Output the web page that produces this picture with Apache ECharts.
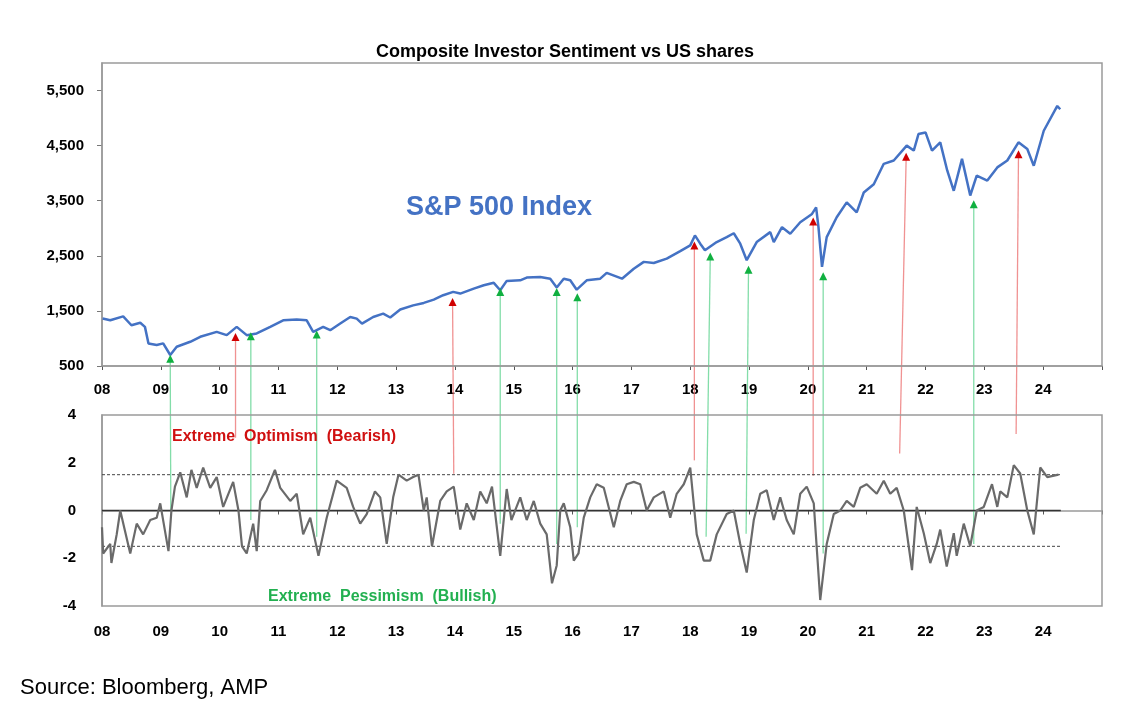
<!DOCTYPE html>
<html>
<head>
<meta charset="utf-8">
<script src="https://cdn.jsdelivr.net/npm/echarts@6/dist/echarts.min.js"></script>
<style>
html,body{margin:0;padding:0;background:#fff;}
#main{width:1132px;height:723px;}
</style>
</head>
<body>
<div id="main"></div>
<script>
// S&P 500 (year offset from 2000, index level)
var spYears = [8.01,8.14,8.36,8.50,8.65,8.73,8.79,8.93,9.04,9.16,9.27,9.50,9.67,9.95,10.12,10.29,10.46,10.63,10.86,11.08,11.31,11.48,11.59,11.76,11.88,12.05,12.22,12.33,12.42,12.61,12.78,12.90,13.07,13.29,13.47,13.64,13.80,13.97,14.09,14.32,14.49,14.66,14.77,14.88,15.11,15.22,15.45,15.62,15.73,15.85,15.96,16.07,16.24,16.47,16.58,16.84,17.04,17.21,17.38,17.60,17.83,18.00,18.08,18.17,18.25,18.45,18.62,18.74,18.85,18.96,19.13,19.36,19.42,19.56,19.70,19.87,20.07,20.14,20.18,20.24,20.32,20.49,20.66,20.83,20.95,21.12,21.29,21.46,21.68,21.80,21.88,22.00,22.11,22.25,22.37,22.48,22.62,22.76,22.87,23.05,23.22,23.39,23.58,23.73,23.84,24.01,24.24,24.29];
var spValues = [1362,1330,1400,1240,1285,1210,910,880,910,700,850,940,1030,1120,1060,1210,1060,1090,1210,1330,1345,1330,1120,1210,1150,1270,1390,1360,1270,1390,1450,1380,1525,1600,1645,1705,1785,1845,1815,1905,1965,2010,1875,2045,2055,2105,2115,2085,1925,2085,2055,1885,2055,2085,2190,2085,2265,2390,2370,2450,2585,2690,2870,2720,2600,2750,2840,2910,2720,2420,2750,2930,2750,3020,2900,3110,3260,3380,3020,2300,2840,3200,3470,3290,3650,3800,4170,4230,4500,4410,4710,4740,4410,4560,4045,3680,4260,3595,3955,3865,4105,4230,4560,4440,4135,4770,5220,5160];

// composite sentiment
var sentYears = [8.0,8.02,8.14,8.16,8.25,8.31,8.48,8.59,8.70,8.82,8.93,8.99,9.13,9.18,9.24,9.33,9.44,9.52,9.61,9.72,9.84,9.95,10.06,10.23,10.32,10.38,10.46,10.57,10.63,10.69,10.80,10.94,11.03,11.20,11.31,11.42,11.54,11.68,11.82,11.99,12.16,12.27,12.39,12.50,12.64,12.73,12.84,12.95,13.04,13.18,13.29,13.38,13.47,13.52,13.61,13.75,13.86,13.98,14.09,14.20,14.32,14.43,14.54,14.63,14.77,14.88,14.96,15.11,15.22,15.34,15.45,15.56,15.65,15.73,15.79,15.85,15.96,16.02,16.10,16.19,16.30,16.41,16.53,16.70,16.81,16.92,17.04,17.15,17.26,17.38,17.55,17.66,17.77,17.89,18.00,18.11,18.23,18.34,18.45,18.62,18.74,18.85,18.96,19.08,19.19,19.30,19.42,19.53,19.64,19.76,19.87,19.98,20.10,20.21,20.32,20.44,20.55,20.66,20.78,20.89,21.00,21.17,21.29,21.40,21.51,21.63,21.77,21.85,21.97,22.08,22.19,22.25,22.36,22.48,22.53,22.65,22.76,22.87,22.99,23.13,23.22,23.27,23.39,23.50,23.61,23.73,23.84,23.95,24.07,24.26];
var sentValues = [-0.7,-1.8,-1.4,-2.2,-1.0,0,-1.8,-0.55,-1.0,-0.4,-0.3,0.3,-1.7,0,1.0,1.6,0.55,1.7,0.95,1.8,0.95,1.4,0.15,1.2,0,-1.5,-1.8,-0.55,-1.7,0.4,0.85,1.7,0.95,0.4,0.7,-1.0,-0.3,-1.9,-0.3,1.25,0.95,0.15,-0.55,-0.15,0.8,0.55,-1.4,0.55,1.5,1.25,1.4,1.5,0,0.55,-1.5,0.4,0.8,1.0,-0.8,0.3,-0.4,0.8,0.3,1.0,-1.9,0.9,-0.4,0.55,-0.4,0.4,-0.55,-1.0,-3.05,-2.3,0,0.3,-0.7,-2.1,-1.8,-0.3,0.55,1.1,0.95,-0.7,0.4,1.1,1.2,1.1,0,0.55,0.8,-0.3,0.7,1.1,1.8,-1.0,-2.1,-2.1,-1.0,-0.15,0,-1.4,-2.6,-0.4,0.7,0.85,-0.4,0.55,-0.4,-1.0,0.7,1.0,0.3,-3.75,-1.4,-0.15,0,0.4,0.15,0.95,1.1,0.7,1.25,0.7,0.95,0,-2.5,0.15,-0.95,-2.2,-1.4,-0.8,-2.35,-0.95,-1.9,-0.55,-1.5,0,0.15,1.1,0.15,0.8,0.55,1.9,1.55,0,-1.0,1.8,1.4,1.5];

// signal arrows: bottom start (year, sentiment) -> top tip (year, S&P)
var redFromYear = [10.27,13.98,18.07,20.09,21.56,23.54];
var redFromSent = [3.05,1.54,2.1,1.46,2.39,3.2];
var redToYear   = [10.27,13.96,18.07,20.09,21.67,23.58];
var redToSp     = [1043,1680,2707,3140,4317,4360];
var greenFromYear = [9.17,10.53,11.65,14.77,15.73,16.08,18.27,18.95,20.26,22.82];
var greenFromSent = [0,-0.4,-1.1,-0.55,-1.4,-0.7,-1.1,-0.97,-1.8,-1.4];
var greenToYear   = [9.16,10.53,11.65,14.77,15.73,16.08,18.34,18.99,20.26,22.82];
var greenToSp     = [650,1060,1090,1863,1863,1766,2508,2267,2146,3455];

var band = 1.5;

function zip(a, b) { return a.map(function (v, i) { return [v, b[i]]; }); }
function yr(v) { return v > 24.5 ? '' : (v < 10 ? '0' : '') + v; }

var axisText = { color: '#000', fontWeight: 'bold', fontSize: 15, fontFamily: 'Arial' };
var boxLine = { show: true, lineStyle: { color: '#9a9a9a', width: 1.5 } };

var chart = echarts.init(document.getElementById('main'));
var option = {
    animation: false,
    backgroundColor: '#fff',
    title: {
        text: 'Composite Investor Sentiment vs US shares',
        left: 560, top: 38, textAlign: 'center',
        textStyle: { fontFamily: 'Arial', fontSize: 18, fontWeight: 'bold', color: '#000' }
    },
    graphic: [
        { type: 'text', left: 20, top: 677, style: { text: 'Source: Bloomberg, AMP', font: '22px Arial', fill: '#000' } },
        { type: 'text', left: 406, top: 194, style: { text: 'S&P 500 Index', font: 'bold 27px Arial', fill: '#4472c4' } },
        { type: 'text', left: 172, top: 429, z: 10, style: { text: 'Extreme  Optimism  (Bearish)', font: 'bold 16px Arial', fill: '#d01010' } },
        { type: 'text', left: 268, top: 589, z: 10, style: { text: 'Extreme  Pessimism  (Bullish)', font: 'bold 16px Arial', fill: '#22b050' } }
    ],
    grid: [
        { left: 102, right: 30, top: 63, height: 303 },
        { left: 102, right: 30, top: 415, height: 191 }
    ],
    xAxis: [0, 1].map(function (i) {
        return {
            type: 'value', gridIndex: i, min: 8, max: 25, interval: 1,
            axisLine: boxLine, axisTick: { show: true, length: 4, lineStyle: { color: '#555' } },
            axisLabel: Object.assign({ formatter: yr, margin: i ? 18 : 16, fontSize: 17 }, axisText),
            splitLine: { show: false }
        };
    }),
    yAxis: [
        {
            type: 'value', gridIndex: 0, min: 500, max: 6000, interval: 1000,
            axisLine: boxLine, axisTick: { show: true, inside: false, length: 5, lineStyle: { color: '#777' } },
            axisLabel: Object.assign({ showMaxLabel: false, margin: 18, formatter: function (v) { return v.toLocaleString('en-US'); } }, axisText),
            splitLine: { show: false }
        },
        {
            type: 'value', gridIndex: 1, min: -4, max: 4, interval: 2,
            axisLine: boxLine, axisTick: { show: false },
            axisLabel: Object.assign({ margin: 26 }, axisText),
            splitLine: { show: false }
        }
    ],
    series: [
        {
            type: 'line', xAxisIndex: 0, yAxisIndex: 0, data: zip(spYears, spValues),
            showSymbol: false, lineStyle: { color: '#4472c4', width: 2.5 }, z: 3,
            markArea: { silent: true, itemStyle: { color: 'none', borderColor: '#9a9a9a', borderWidth: 1.5 }, data: [[{ coord: [8, 6000] }, { coord: [25, 500] }]] }
        },
        {
            type: 'line', xAxisIndex: 1, yAxisIndex: 1, data: zip(sentYears, sentValues),
            showSymbol: false, lineStyle: { color: '#6a6a6a', width: 2.2 }, z: 3,
            markArea: { silent: true, itemStyle: { color: 'none', borderColor: '#9a9a9a', borderWidth: 1.5 }, data: [[{ coord: [8, 4] }, { coord: [25, -4] }]] }
        },
        {
            type: 'line', xAxisIndex: 1, yAxisIndex: 1, data: [[8, 0], [24.3, 0]],
            showSymbol: false, lineStyle: { color: '#333', width: 1.5 }, z: 2
        },
        {
            type: 'line', xAxisIndex: 1, yAxisIndex: 1, data: [[8, band], [24.3, band]],
            showSymbol: false, lineStyle: { color: '#444', width: 1, type: [3, 2] }, z: 2
        },
        {
            type: 'line', xAxisIndex: 1, yAxisIndex: 1, data: [[8, -band], [24.3, -band]],
            showSymbol: false, lineStyle: { color: '#444', width: 1, type: [3, 2] }, z: 2
        }
    ]
};
chart.setOption(option);

// arrows cross both panels, so place them once axes are laid out
function arrows(fy, fs, ty, tsp, lineCol, headCol) {
    var out = [];
    fy.forEach(function (y, i) {
        var a = chart.convertToPixel({ xAxisIndex: 1, yAxisIndex: 1 }, [y, fs[i]]);
        var b = chart.convertToPixel({ xAxisIndex: 0, yAxisIndex: 0 }, [ty[i], tsp[i]]);
        out.push({ type: 'line', z: 1, shape: { x1: a[0], y1: a[1], x2: b[0], y2: b[1] + 4 }, style: { stroke: lineCol, lineWidth: 1.3 } });
        out.push({ type: 'polygon', z: 5, shape: { points: [[b[0] - 4, b[1] + 5], [b[0] + 4, b[1] + 5], [b[0], b[1] - 3]] }, style: { fill: headCol } });
    });
    return out;
}
var g = option.graphic.concat(
    arrows(redFromYear, redFromSent, redToYear, redToSp, 'rgba(235,110,110,0.75)', '#d00000'),
    arrows(greenFromYear, greenFromSent, greenToYear, greenToSp, 'rgba(90,210,140,0.75)', '#10b040')
);
chart.setOption({ graphic: g });
</script>
</body>
</html>
